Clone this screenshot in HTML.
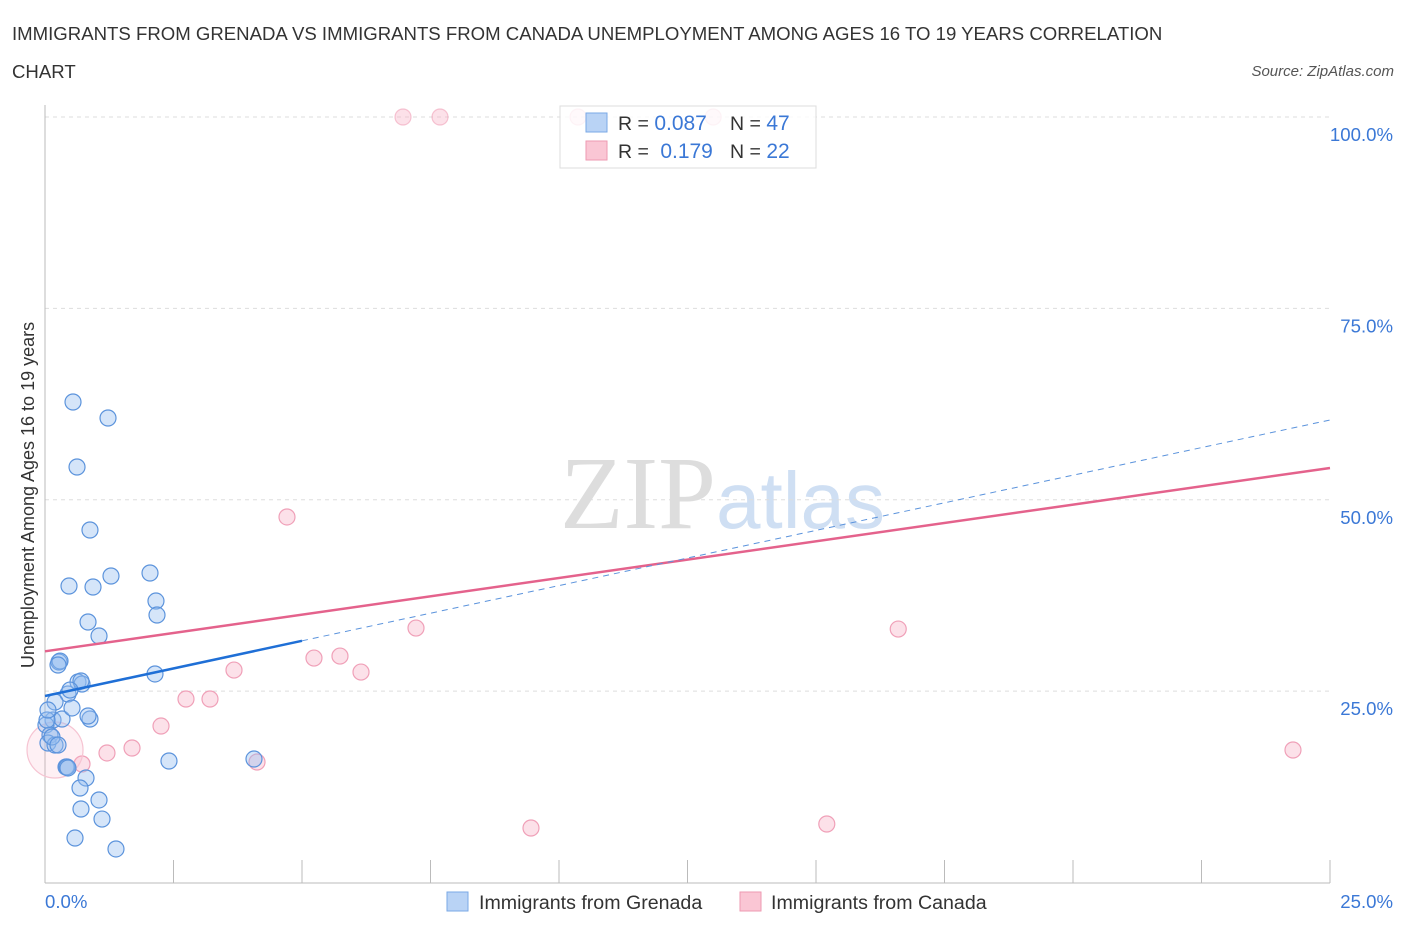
<!DOCTYPE html>
<html><head><meta charset="utf-8"><style>
body{margin:0;background:#fff;font-family:"Liberation Sans",sans-serif;}
svg text{font-family:"Liberation Sans",sans-serif;}
</style></head><body>
<svg id="c" width="1406" height="930">
<text x="12" y="40" font-size="18.6" fill="#333">IMMIGRANTS FROM GRENADA VS IMMIGRANTS FROM CANADA UNEMPLOYMENT AMONG AGES 16 TO 19 YEARS CORRELATION</text>
<text x="12" y="78" font-size="18.6" fill="#333">CHART</text>
<text x="1394" y="76" font-size="15" fill="#555" font-style="italic" text-anchor="end">Source: ZipAtlas.com</text>
<text x="716" y="528" font-size="104" fill="#ddd" text-anchor="end" style="font-family:'Liberation Serif',serif">ZIP</text>
<text x="716" y="528" font-size="80" fill="#cfdff3">atlas</text>
<text x="34" y="495" font-size="18" fill="#333" text-anchor="middle" transform="rotate(-90 34 495)">Unemployment Among Ages 16 to 19 years</text>
<g id="grid"></g><g id="marks"></g>
<g>
<rect x="560" y="106" width="256" height="62" fill="#fff" fill-opacity="0.8" stroke="#ddd"/>
<rect x="586" y="113" width="21" height="19" fill="#b9d3f5" stroke="#7aa8e6"/>
<rect x="586" y="141" width="21" height="19" fill="#fac6d4" stroke="#ee9ab2"/>
<text x="618" y="130" font-size="19.5" fill="#333">R = <tspan fill="#3b78d6" font-size="21">0.087</tspan></text>
<text x="730" y="130" font-size="19.5" fill="#333">N = <tspan fill="#3b78d6" font-size="21">47</tspan></text>
<text x="618" y="158" font-size="19.5" fill="#333">R = <tspan fill="#3b78d6" dx="6" font-size="21">0.179</tspan></text>
<text x="730" y="158" font-size="19.5" fill="#333">N = <tspan fill="#3b78d6" font-size="21">22</tspan></text>
</g>
<g>
<rect x="447" y="892" width="21" height="19" fill="#b9d3f5" stroke="#7aa8e6"/>
<text x="479" y="909" font-size="19.6" fill="#333">Immigrants from Grenada</text>
<rect x="740" y="892" width="21" height="19" fill="#fac6d4" stroke="#ee9ab2"/>
<text x="771" y="909" font-size="19.6" fill="#333">Immigrants from Canada</text>
</g>
<g id="over"></g>
</svg>
<script>
const blueX=[0.545,1.226,0.623,0.875,0.467,0.934,1.284,2.043,2.159,2.179,0.837,1.051,0.272,0.292,0.253,0.642,0.720,0.700,2.140,0.447,0.486,0.195,0.156,0.875,0.837,0.331,0.019,0.097,0.058,0.195,0.136,0.409,0.428,0.447,0.798,0.681,0.700,1.051,1.109,0.584,1.381,2.412,4.066,0.039,0.525,0.058,0.253];
const blueY=[62.77,60.68,54.28,46.05,38.73,38.60,40.04,40.43,36.77,34.94,34.03,32.20,28.80,28.93,28.41,26.19,25.93,26.32,27.24,24.62,25.14,23.58,21.23,21.36,21.75,21.36,20.57,19.27,18.22,17.96,19.01,15.09,15.09,14.96,13.65,12.34,9.60,10.78,8.29,5.81,4.38,15.87,16.13,21.23,22.80,22.53,17.96];
const pinkX=[6.965,7.685,10.37,13.0,4.708,7.218,5.233,5.739,6.148,3.677,2.743,3.210,2.257,1.693,1.206,0.720,4.125,9.455,15.21,16.6,24.28,0.195];
const pinkY=[100,100,100,100,47.75,33.24,29.32,29.58,27.49,27.75,23.97,23.97,20.44,17.57,16.92,15.48,15.74,7.12,7.64,33.11,17.31,17.31];
const pinkR=[8,8,8,8,8,8,8,8,8,8,8,8,8,8,8,8,8,8,8,8,8,28];
const blueTrend=[24.36,60.42];
const pinkTrend=[30.2,54.15];
const yTicks=[25,50,75,100];
const xTicks=[0,2.5,5,7.5,10,12.5,15,17.5,20,22.5,25];
const NS='http://www.w3.org/2000/svg';
const sx=v=>45+v/25*1285, sy=v=>882.5-v/100*765.5;
function mk(t,a,p){const e=document.createElementNS(NS,t);for(const k in a)e.setAttribute(k,a[k]);p.appendChild(e);return e;}
const g=document.getElementById('grid'), m=document.getElementById('marks');
yTicks.forEach(v=>{
 const l=mk('line',{x1:45,x2:1330,y1:sy(v),y2:sy(v),stroke:'#ddd','stroke-dasharray':'4,4'},g);
 
 
 const t=mk('text',{x:1393,y:sy(v)+24,'font-size':18.6,fill:'#3b78d6','text-anchor':'end'},g);
 t.textContent=v.toFixed(1)+'%';
 
 
});
const ax=mk('line',{x1:45,x2:45,y1:105,y2:883,stroke:'#bbb'},g);


const bx=mk('line',{x1:45,x2:1330,y1:883,y2:883,stroke:'#bbb'},g);


xTicks.forEach(v=>{
 const l=mk('line',{x1:sx(v),x2:sx(v),y1:860,y2:883,stroke:'#bbb'},g);
 
 
});
[[0,'start',45],[25,'end',1393]].forEach(([v,a,x])=>{
 const t=mk('text',{x:x,y:908,'font-size':18.6,fill:'#3b78d6','text-anchor':a},g);
 t.textContent=v.toFixed(1)+'%';
 
 
});
pinkX.forEach((x,i)=>{
 const big=pinkR[i]>10;
 const c=mk('circle',{cx:sx(x),cy:sy(pinkY[i]),r:pinkR[i],fill:big?'rgba(248,180,200,0.2)':'rgba(248,180,200,0.4)',stroke:big?'#f6c4d2':'#f0a0b8','stroke-width':1.2,'stroke-opacity':pinkY[i]>=100?0.6:1},m);
 
 
});
blueX.forEach((x,i)=>{
 const c=mk('circle',{cx:sx(x),cy:sy(blueY[i]),r:8,fill:'rgba(150,190,240,0.4)',stroke:'#5b93dc','stroke-width':1.2},m);
 
 
});
const bt=v=>blueTrend[0]+(blueTrend[1]-blueTrend[0])*v/25;
const pl=mk('line',{x1:sx(0),y1:sy(pinkTrend[0]),x2:sx(25),y2:sy(pinkTrend[1]),stroke:'#e4628c','stroke-width':2.5},m);


const bd=mk('line',{x1:sx(5),y1:sy(bt(5)),x2:sx(25),y2:sy(bt(25)),stroke:'#5b93dc','stroke-width':1,'stroke-dasharray':'6,5'},m);


const bl=mk('line',{x1:sx(0),y1:sy(bt(0)),x2:sx(5),y2:sy(bt(5)),stroke:'#1f6fd6','stroke-width':2.5},m);


</script>
</body></html>
